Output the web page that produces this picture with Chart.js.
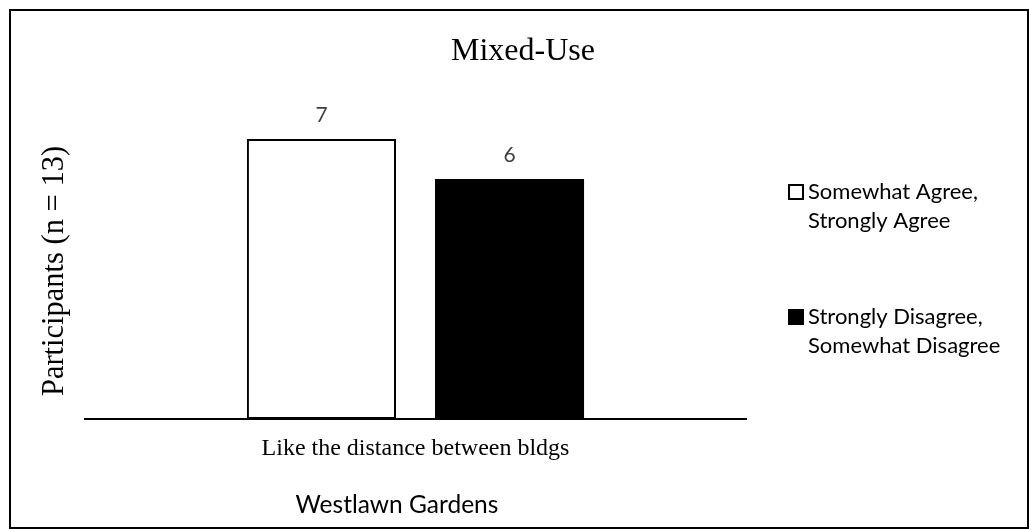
<!DOCTYPE html>
<html lang="en">
<head>
    <meta charset="UTF-8">
    <title>Mixed-Use</title>
    <script src="https://cdn.jsdelivr.net/npm/chart.js"></script>
    <style>
        * {
            margin: 0;
            padding: 0;
            box-sizing: border-box;
        }
        body {
            background-color: #fff;
            width: 1029px;
            height: 529px;
            overflow: hidden;
        }
        .chart-box {
            position: relative;
            width: 1029px;
            height: 529px;
        }
    </style>
</head>
<body>
    <div class="chart-box">
        <canvas id="mixedUseChart"></canvas>
    </div>

    <script>
        // chart data
        const chartTitle = 'Mixed-Use';
        const categories = ['Like the distance between bldgs'];
        const agreeValues = [7];
        const disagreeValues = [6];
        const agreeLegend = ['Somewhat Agree,', 'Strongly Agree'];
        const disagreeLegend = ['Strongly Disagree,', 'Somewhat Disagree'];
        const yAxisTitle = 'Participants (n = 13)';
        const xAxisTitle = 'Westlawn Gardens';
        const yMin = 0;
        const yMax = 8;

        const serif = "'Liberation Serif', 'Times New Roman', serif";
        const sans = "Lato, 'Noto Sans', sans-serif";

        // texts around the plot: frame, titles, value labels, legend
        const decorations = {
            id: 'decorations',
            afterDraw(chart) {
                const ctx = chart.ctx;
                const xScale = chart.scales.x;
                ctx.save();

                // outer frame
                ctx.strokeStyle = '#000';
                ctx.lineWidth = 2;
                ctx.strokeRect(10, 10, 1018, 518);

                ctx.fillStyle = '#000';
                ctx.textAlign = 'center';
                ctx.textBaseline = 'alphabetic';

                ctx.font = '32px ' + serif;
                ctx.fillText(chartTitle, 523, 60);

                // category label
                ctx.font = '24px ' + serif;
                categories.forEach((c, i) => {
                    ctx.fillText(c, xScale.getPixelForValue(i), 455);
                });

                // second x title
                ctx.font = '24.5px ' + sans;
                ctx.fillText(xAxisTitle, 397, 513);

                // y title
                ctx.save();
                ctx.translate(63, (145 + 397) / 2);
                ctx.rotate(-Math.PI / 2);
                ctx.font = '30.5px ' + serif;
                ctx.fillText(yAxisTitle, 0, 0);
                ctx.restore();

                // value labels above bars
                ctx.font = '21px ' + sans;
                ctx.fillStyle = '#404040';
                chart.data.datasets.forEach((ds, di) => {
                    chart.getDatasetMeta(di).data.forEach((bar, i) => {
                        ctx.fillText(String(ds.data[i]), bar.x, bar.y - 17);
                    });
                });

                // legend
                const items = [
                    { lines: agreeLegend, fill: '#fff', top: 185 },
                    { lines: disagreeLegend, fill: '#000', top: 310 }
                ];
                ctx.textAlign = 'left';
                ctx.font = '22px ' + sans;
                items.forEach(item => {
                    ctx.fillStyle = item.fill;
                    ctx.fillRect(789, item.top, 14, 14);
                    ctx.strokeStyle = '#000';
                    ctx.lineWidth = 2;
                    ctx.strokeRect(789, item.top, 14, 14);
                    ctx.fillStyle = '#000';
                    item.lines.forEach((line, li) => {
                        ctx.fillText(line, 808, item.top + 14 + li * 29);
                    });
                });

                ctx.restore();
            }
        };

        const ctx = document.getElementById('mixedUseChart').getContext('2d');
        new Chart(ctx, {
            type: 'bar',
            data: {
                labels: categories,
                datasets: [{
                    label: agreeLegend.join(' '),
                    data: agreeValues,
                    backgroundColor: '#fff',
                    borderColor: '#000',
                    borderWidth: 2,
                    borderSkipped: false
                }, {
                    label: disagreeLegend.join(' '),
                    data: disagreeValues,
                    backgroundColor: '#000',
                    borderColor: '#000',
                    borderWidth: 0
                }]
            },
            options: {
                responsive: true,
                maintainAspectRatio: false,
                animation: false,
                layout: {
                    padding: { top: 99, bottom: 110, left: 85, right: 283 }
                },
                categoryPercentage: 0.569,
                barPercentage: 0.7926,
                plugins: {
                    legend: { display: false },
                    title: { display: false },
                    tooltip: { enabled: false }
                },
                scales: {
                    x: {
                        ticks: { display: false },
                        grid: { display: false, drawTicks: false },
                        border: { display: true, color: '#000', width: 2 }
                    },
                    y: {
                        display: false,
                        min: yMin,
                        max: yMax
                    }
                }
            },
            plugins: [decorations]
        });
    </script>
</body>
</html>
